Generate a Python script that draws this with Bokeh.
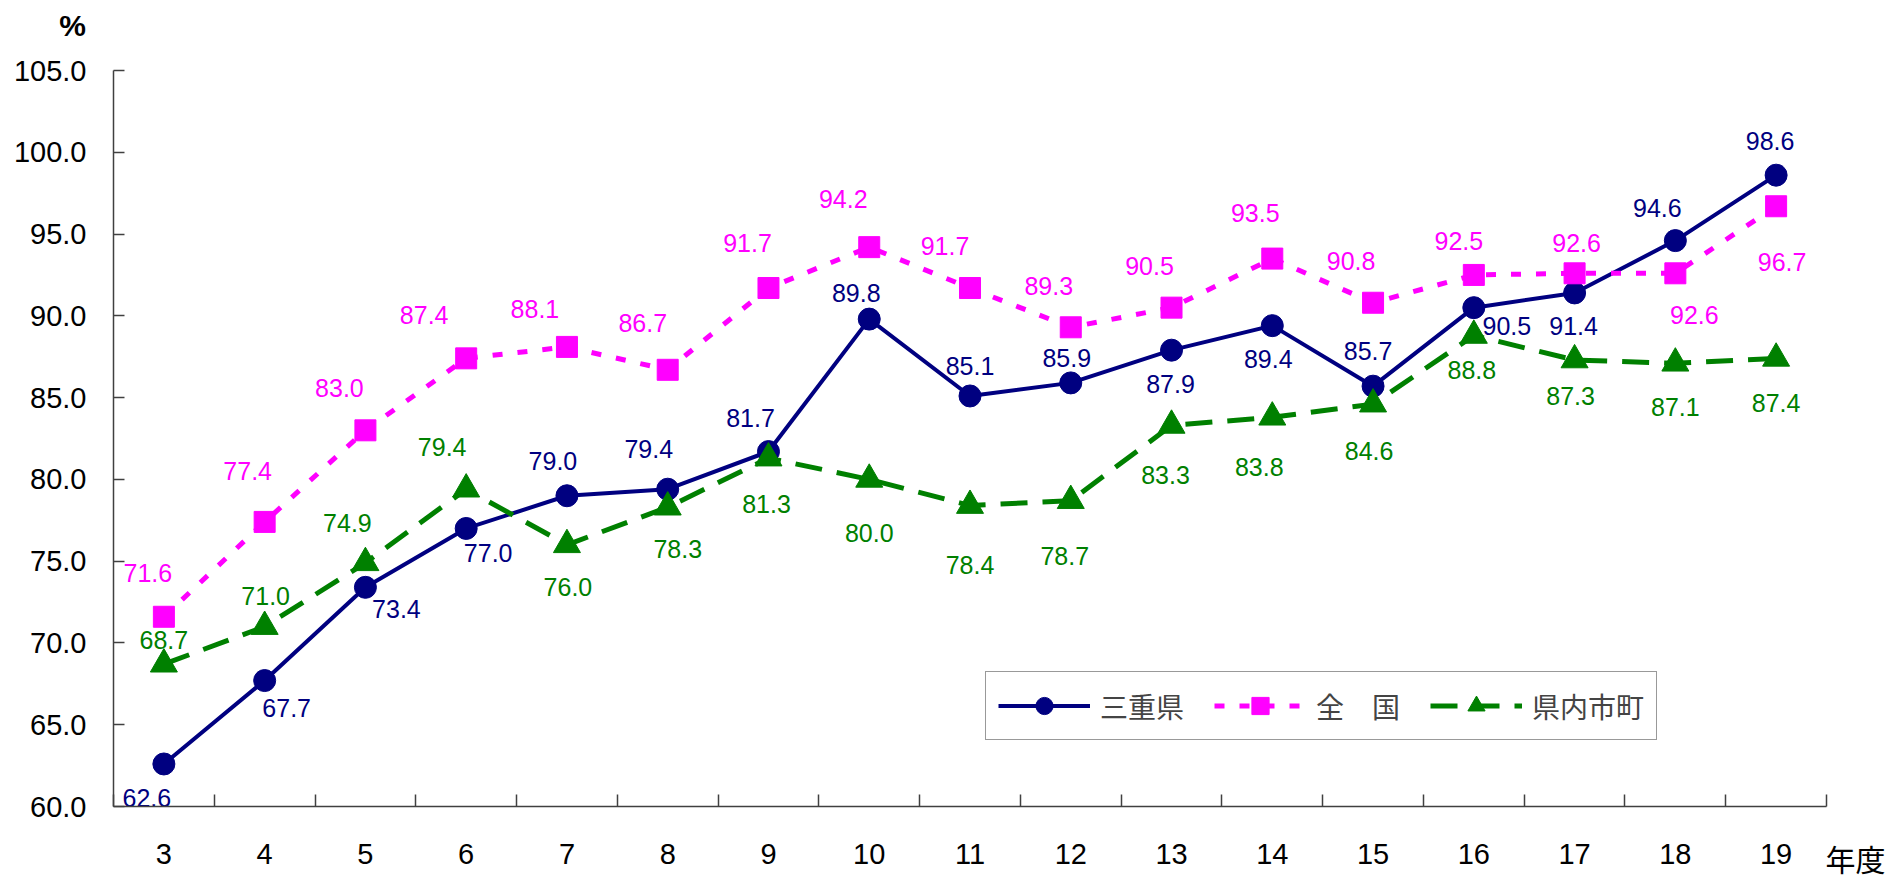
from bokeh.plotting import figure
from bokeh.models import (ColumnDataSource, FixedTicker, NumeralTickFormatter, Label,
                          Legend, LegendItem, Range1d)
from bokeh.core.properties import value
from bokeh.embed import file_html
from bokeh.resources import INLINE

# ---------------- data ----------------
years = ["3", "4", "5", "6", "7", "8", "9", "10", "11", "12", "13", "14", "15", "16", "17", "18", "19"]
series_names = ["三重県", "全\u3000国", "県内市町"]
mie = [62.6, 67.7, 73.4, 77.0, 79.0, 79.4, 81.7, 89.8, 85.1, 85.9, 87.9, 89.4, 85.7, 90.5, 91.4, 94.6, 98.6]
zenkoku = [71.6, 77.4, 83.0, 87.4, 88.1, 86.7, 91.7, 94.2, 91.7, 89.3, 90.5, 93.5, 90.8, 92.5, 92.6, 92.6, 96.7]
shicho = [68.7, 71.0, 74.9, 79.4, 76.0, 78.3, 81.3, 80.0, 78.4, 78.7, 83.3, 83.8, 84.6, 88.8, 87.3, 87.1, 87.4]
y_ticks = [60.0, 65.0, 70.0, 75.0, 80.0, 85.0, 90.0, 95.0, 100.0, 105.0]
x_title = "年度"
y_title = "%"

# ---------------- label placement (screen px offsets, style only) ----------------
mie_dx = [-17, 22, 31, 22, -14, -19, -18, -13, 0, -4, -1, -4, -5, 33, -1, -18, -6]
mie_dy = [34, 27, 22, 25, -35, -40, -34, -26, -30, -25, 34, 33, -35, 18, 33, -33, -34]
zen_dx = [-16, -17, -26, -42, -32, -25, -21, -26, -25, -22, -22, -17, -22, -15, 2, 19, 6]
zen_dy = [-44, -51, -42, -43, -38, -47, -45, -48, -42, -41, -42, -46, -42, -34, -30, 42, 56]
shi_dx = [0, 1, -18, -24, 1, 10, -2, 0, 0, -6, -6, -13, -4, -2, -4, 0, 0]
shi_dy = [-24, -31, -40, -42, 42, 42, 46, 54, 59, 55, 50, 50, 47, 35, 36, 44, 45]

NAVY = "#000080"
MAGENTA = "#FF00FF"
GREEN = "#008000"
AXIS = "#404040"
NUM_FONT = "Liberation Sans"
JP_FONT = "Noto Sans CJK JP"

# ---------------- layout (pixels) ----------------
W, H = 1890, 880
AX_L, AX_R, AX_T, AX_B = 113, 1826, 70, 806      # plotting area on the canvas
n = len(years)
y_lo, y_hi = y_ticks[0], y_ticks[-1]
px_x = (AX_R - AX_L) / n
px_y = (AX_B - AX_T) / (y_hi - y_lo)
x_start = -0.5 - AX_L / px_x
x_end = -0.5 + (W - AX_L) / px_x
y_end = y_lo + AX_B / px_y
y_start = y_lo - (H - AX_B) / px_y

xs = list(range(n))

p = figure(width=W, height=H, output_backend="svg", toolbar_location=None,
           x_range=Range1d(x_start, x_end), y_range=Range1d(y_start, y_end),
           min_border=0, min_border_left=0, min_border_right=0,
           min_border_top=0, min_border_bottom=0)
p.title.visible = False
p.outline_line_color = None
p.xgrid.visible = False
p.ygrid.visible = False
p.background_fill_color = "white"
p.border_fill_color = "white"

# x axis: labels at category centres, tick marks between categories
xa = p.xaxis[0]
xa.fixed_location = y_lo
xa.bounds = (-0.5, n - 0.5)
xa.ticker = FixedTicker(ticks=xs, minor_ticks=[k - 0.5 for k in range(n + 1)])
xa.major_label_overrides = {i: years[i] for i in xs}
xa.major_tick_in = 0
xa.major_tick_out = 0
xa.minor_tick_in = 12
xa.minor_tick_out = 0
xa.minor_tick_line_color = AXIS
xa.minor_tick_line_width = 1.5
xa.axis_line_color = AXIS
xa.axis_line_width = 1.5
xa.major_label_text_font = NUM_FONT
xa.major_label_text_font_size = "29px"
xa.major_label_text_color = "black"
xa.major_label_standoff = 37

ya = p.yaxis[0]
ya.fixed_location = -0.5
ya.bounds = (y_lo, y_hi)
ya.ticker = FixedTicker(ticks=y_ticks)
ya.formatter = NumeralTickFormatter(format="0.0")
ya.major_tick_in = 11
ya.major_tick_out = 0
ya.major_tick_line_color = AXIS
ya.major_tick_line_width = 1.5
ya.minor_tick_line_color = None
ya.axis_line_color = AXIS
ya.axis_line_width = 1.5
ya.major_label_text_font = NUM_FONT
ya.major_label_text_font_size = "29px"
ya.major_label_text_color = "black"
ya.major_label_standoff = 27

# series
r_mie_l = p.line(xs, mie, line_color=NAVY, line_width=4)
r_zen_l = p.line(xs, zenkoku, line_color=MAGENTA, line_width=5, line_dash="10 15")
r_shi_l = p.line(xs, shicho, line_color=GREEN, line_width=5, line_dash="27 15")
r_mie_m = p.scatter(xs, mie, marker="circle", size=22, fill_color=NAVY, line_color=NAVY)
r_zen_m = p.scatter(xs, zenkoku, marker="square", size=21, fill_color=MAGENTA, line_color=MAGENTA)
r_shi_m = p.scatter(xs, shicho, marker="triangle", size=27, fill_color=GREEN, line_color=GREEN)

def add_labels(vals, dx, dy, color):
    src = ColumnDataSource(dict(x=xs, y=vals, t=[f"{v:.1f}" for v in vals], dx=dx, dy=dy))
    p.text(x="x", y="y", text="t", x_offset="dx", y_offset="dy", source=src,
           text_color=color, text_font=value(NUM_FONT), text_font_size="25px",
           text_align="center", text_baseline="middle")

add_labels(mie, mie_dx, mie_dy, NAVY)
add_labels(zenkoku, zen_dx, zen_dy, MAGENTA)
add_labels(shicho, shi_dx, shi_dy, GREEN)

legend = Legend(items=[
    LegendItem(label=series_names[0], renderers=[r_mie_l, r_mie_m]),
    LegendItem(label=series_names[1], renderers=[r_zen_l, r_zen_m]),
    LegendItem(label=series_names[2], renderers=[r_shi_l, r_shi_m]),
], location=(985, H - 740), orientation="horizontal", glyph_width=92, glyph_height=43,
    label_text_font=JP_FONT, label_text_font_size="28px", label_standoff=10,
    spacing=30, padding=12, margin=0, border_line_color="#333333", border_line_width=1.5,
    background_fill_color="white", background_fill_alpha=1.0)
p.add_layout(legend)

p.add_layout(Label(x=72, y=H - 25, x_units="screen", y_units="screen", text=y_title,
                   text_align="center", text_baseline="middle", text_font=NUM_FONT,
                   text_font_size="30px", text_font_style="bold", text_color="black"))
p.add_layout(Label(x=1825, y=H - 857, x_units="screen", y_units="screen", text=x_title,
                   text_align="left", text_baseline="middle", text_font=JP_FONT,
                   text_font_size="30px", text_color="black"))

open("out.html", "w").write(file_html(p, INLINE))
